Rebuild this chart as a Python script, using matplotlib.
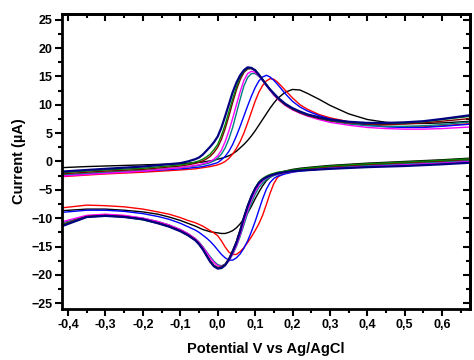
import matplotlib
matplotlib.use("Agg")
import matplotlib.pyplot as plt
from matplotlib.ticker import MultipleLocator

plt.rcParams['font.family'] = ['Liberation Sans', 'DejaVu Sans']
plt.rcParams['font.weight'] = 'bold'

# potential grid, forward (anodic) and reverse (cathodic) sweep, V vs Ag/AgCl
E_fwd = [-0.42, -0.35, -0.3, -0.25, -0.2, -0.15, -0.1, -0.08,
         -0.06, -0.05, -0.04, -0.03, -0.02, -0.01, 0.0, 0.01, 0.02, 0.03, 0.04, 0.05, 0.06, 0.07,
         0.08, 0.09, 0.10, 0.11, 0.12, 0.13, 0.14, 0.15, 0.16,
         0.18, 0.20, 0.22, 0.24, 0.27, 0.30, 0.35, 0.40, 0.45, 0.50, 0.55, 0.60, 0.68]
E_rev = [0.68, 0.6, 0.5, 0.4, 0.3, 0.25, 0.22, 0.20, 0.18,
         0.16, 0.15, 0.14, 0.13, 0.12, 0.11, 0.10, 0.09, 0.08, 0.07, 0.06, 0.05, 0.04, 0.03,
         0.02, 0.01, 0.0, -0.01, -0.02, -0.03, -0.04, -0.05, -0.06,
         -0.08, -0.1, -0.13, -0.16, -0.2, -0.25, -0.3, -0.35, -0.42]

# currents in uA, one list per scan
black_fwd = [-1.1, -0.9, -0.8, -0.7, -0.6, -0.5, -0.4, -0.3,
             -0.2, -0.15, -0.1, 0.0, 0.1, 0.2, 0.4, 0.55, 0.75, 1.0, 1.35, 1.8, 2.4, 3.0,
             3.7, 4.5, 5.4, 6.4, 7.4, 8.4, 9.4, 10.3, 11.1,
             12.2, 12.7, 12.6, 12.0, 11.0, 9.9, 8.4, 7.4, 6.9, 6.7, 6.7, 6.8, 7.1]
black_rev = [0.6, 0.3, 0.0, -0.3, -0.7, -1.0, -1.2, -1.4, -1.7,
             -2.1, -2.4, -2.8, -3.4, -4.3, -5.4, -6.6, -7.9, -9.1, -10.1, -11.0, -11.7, -12.2, -12.5,
             -12.7, -12.7, -12.6, -12.5, -12.4, -12.2, -12.0, -11.7, -11.4,
             -10.9, -10.4, -9.8, -9.3, -8.9, -8.6, -8.4, -8.4, -8.7]

red_fwd = [-2.7, -2.4, -2.2, -2.05, -1.9, -1.7, -1.5, -1.4,
           -1.3, -1.2, -1.1, -1.0, -0.9, -0.75, -0.6, -0.35, 0.0, 0.55, 1.3, 2.3, 3.5, 5.0,
           6.8, 8.7, 10.6, 12.2, 13.4, 14.2, 14.6, 14.5, 14.0,
           12.6, 11.2, 10.0, 9.2, 8.3, 7.7, 7.0, 6.5, 6.2, 6.1, 6.1, 6.3, 6.7]
red_rev = [0.3, 0.0, -0.3, -0.6, -1.0, -1.3, -1.5, -1.7, -2.0,
           -2.8, -3.9, -5.6, -7.6, -9.5, -11.0, -12.2, -13.3, -14.3, -15.2, -15.9, -16.4, -16.4, -16.0,
           -15.1, -14.0, -13.1, -12.6, -12.2, -11.8, -11.4, -11.1, -10.8,
           -10.4, -9.9, -9.3, -8.9, -8.4, -8.0, -7.8, -7.7, -8.2]

blue_fwd = [-2.5, -2.2, -2.0, -1.85, -1.7, -1.5, -1.3, -1.2,
            -1.05, -1.0, -0.9, -0.75, -0.6, -0.4, -0.2, 0.3, 0.9, 1.8, 3.0, 4.5, 6.2, 8.0,
            9.8, 11.5, 13.0, 14.2, 14.9, 15.2, 14.9, 14.3, 13.6,
            12.0, 10.6, 9.6, 8.9, 8.1, 7.5, 6.9, 6.4, 6.1, 6.0, 6.0, 6.2, 6.6]
blue_rev = [0.1, -0.2, -0.5, -0.8, -1.2, -1.5, -1.7, -1.9, -2.2,
            -2.6, -3.0, -3.7, -4.9, -6.6, -8.6, -10.6, -12.4, -14.0, -15.3, -16.3, -17.0, -17.4, -17.4,
            -17.0, -16.4, -15.6, -14.8, -14.1, -13.5, -13.0, -12.5, -12.1,
            -11.5, -10.9, -10.2, -9.7, -9.2, -8.8, -8.6, -8.6, -9.0]

teal_fwd = [-2.4, -2.1, -1.9, -1.75, -1.6, -1.35, -1.1, -0.95,
            -0.8, -0.7, -0.55, -0.4, -0.2, 0.1, 0.6, 1.3, 2.4, 4.0, 6.0, 8.5, 11.0, 13.3,
            14.8, 15.5, 15.5, 15.0, 14.3, 13.4, 12.6, 11.8, 11.1,
            10.0, 9.2, 8.6, 8.1, 7.5, 7.1, 6.6, 6.3, 6.2, 6.2, 6.3, 6.5, 7.0]
teal_rev = [0.2, -0.1, -0.4, -0.7, -1.1, -1.4, -1.6, -1.8, -2.0,
            -2.3, -2.5, -2.8, -3.2, -3.8, -4.6, -5.8, -7.3, -9.1, -11.2, -13.2, -15.0, -16.4, -17.5,
            -18.1, -18.4, -18.2, -17.6, -16.8, -15.9, -15.0, -14.2, -13.6,
            -12.7, -12.0, -11.2, -10.6, -10.0, -9.6, -9.4, -9.6, -10.9]

magenta_fwd = [-2.6, -2.3, -2.1, -1.9, -1.7, -1.4, -1.1, -0.9,
               -0.7, -0.55, -0.4, -0.2, 0.0, 0.4, 1.0, 2.0, 3.5, 5.4, 7.6, 10.0, 12.3, 14.3,
               15.5, 15.9, 15.7, 15.1, 14.3, 13.4, 12.5, 11.7, 11.0,
               9.9, 9.1, 8.5, 8.0, 7.4, 6.9, 6.4, 6.0, 5.8, 5.7, 5.7, 5.8, 6.1]
magenta_rev = [0.0, -0.3, -0.6, -0.9, -1.2, -1.5, -1.6, -1.8, -2.0,
               -2.2, -2.4, -2.6, -2.9, -3.4, -4.2, -5.3, -6.8, -8.6, -10.7, -12.9, -14.8, -16.3, -17.5,
               -18.2, -18.5, -18.4, -17.8, -17.0, -16.0, -15.1, -14.3, -13.6,
               -12.7, -12.0, -11.2, -10.6, -10.0, -9.5, -9.3, -9.5, -10.7]

wine_fwd = [-2.2, -1.9, -1.7, -1.55, -1.4, -1.1, -0.8, -0.6,
            -0.35, -0.15, 0.1, 0.45, 0.9, 1.6, 2.5, 3.9, 5.8, 8.0, 10.4, 12.6, 14.4, 15.7,
            16.3, 16.4, 16.0, 15.3, 14.5, 13.6, 12.7, 11.9, 11.1,
            10.0, 9.2, 8.6, 8.1, 7.6, 7.2, 6.8, 6.6, 6.5, 6.6, 6.8, 7.1, 7.6]
wine_rev = [0.4, 0.1, -0.2, -0.5, -0.9, -1.2, -1.4, -1.6, -1.8,
            -2.0, -2.2, -2.4, -2.7, -3.1, -3.7, -4.7, -6.1, -7.8, -9.8, -12.0, -14.1, -15.7, -17.1,
            -18.1, -18.6, -18.7, -18.3, -17.5, -16.5, -15.4, -14.5, -13.8,
            -12.9, -12.2, -11.4, -10.8, -10.2, -9.7, -9.5, -9.7, -11.2]

green_fwd = [-2.0, -1.7, -1.5, -1.35, -1.2, -0.9, -0.6, -0.4,
             -0.1, 0.1, 0.4, 0.8, 1.3, 2.1, 3.0, 4.6, 6.5, 8.8, 11.0, 13.1, 14.8, 15.9,
             16.4, 16.4, 16.1, 15.4, 14.5, 13.6, 12.7, 11.9, 11.2,
             10.1, 9.3, 8.7, 8.2, 7.7, 7.3, 6.9, 6.7, 6.7, 6.8, 7.0, 7.4, 8.0]
green_rev = [0.5, 0.2, -0.1, -0.4, -0.8, -1.1, -1.3, -1.5, -1.7,
             -1.9, -2.1, -2.3, -2.6, -3.0, -3.6, -4.7, -6.1, -7.8, -9.9, -12.1, -14.2, -15.8, -17.2,
             -18.2, -18.7, -18.8, -18.4, -17.6, -16.6, -15.5, -14.6, -13.9,
             -13.0, -12.3, -11.5, -10.9, -10.3, -9.8, -9.6, -9.8, -11.3]

navy_fwd = [-1.8, -1.5, -1.3, -1.1, -0.9, -0.6, -0.3, 0.0,
            0.4, 0.7, 1.2, 1.9, 2.6, 3.4, 4.4, 6.0, 8.0, 10.1, 12.2, 13.9, 15.2, 16.1,
            16.6, 16.5, 16.1, 15.3, 14.4, 13.5, 12.7, 12.0, 11.3,
            10.2, 9.4, 8.8, 8.3, 7.8, 7.4, 7.0, 6.8, 6.8, 6.9, 7.1, 7.5, 8.2]
navy_rev = [-0.2, -0.5, -0.8, -1.0, -1.3, -1.5, -1.6, -1.7, -1.9,
            -2.1, -2.3, -2.5, -2.8, -3.2, -3.8, -4.8, -6.2, -7.9, -9.9, -12.3, -14.3, -15.9, -17.3,
            -18.3, -18.8, -18.9, -18.5, -17.7, -16.6, -15.5, -14.6, -13.9,
            -13.0, -12.3, -11.5, -10.9, -10.2, -9.8, -9.6, -9.8, -11.5]

x_ticks = [-0.4, -0.3, -0.2, -0.1, 0.0, 0.1, 0.2, 0.3, 0.4, 0.5, 0.6]
x_labels = ['-0,4', '-0,3', '-0,2', '-0,1', '0,0', '0,1', '0,2', '0,3', '0,4', '0,5', '0,6']
y_ticks = [-25, -20, -15, -10, -5, 0, 5, 10, 15, 20, 25]

scans = [
    (black_fwd, black_rev, 'black', 1.0),
    (red_fwd, red_rev, 'red', 1.0),
    (blue_fwd, blue_rev, 'blue', 1.0),
    (teal_fwd, teal_rev, '#008080', 1.0),
    (magenta_fwd, magenta_rev, 'magenta', 1.0),
    (wine_fwd, wine_rev, '#800000', 1.0),
    (green_fwd, green_rev, '#008000', 1.0),
    (navy_fwd, navy_rev, '#000080', 1.6),
]

fig = plt.figure(figsize=(4.74, 3.6), dpi=100)
ax = fig.add_axes([0.131, 0.142, 0.861, 0.819])

for fwd, rev, col, lw in scans:
    ax.plot(E_fwd + E_rev, fwd + rev, color=col, lw=lw)

ax.set_xlim(-0.416, 0.675)
ax.set_ylim(-26, 26)
ax.set_xticks(x_ticks)
ax.set_xticklabels(x_labels)
ax.set_yticks(y_ticks)
ax.xaxis.set_minor_locator(MultipleLocator(0.05))
ax.yaxis.set_minor_locator(MultipleLocator(2.5))

for s in ax.spines.values():
    s.set_linewidth(2)
ax.tick_params(which='major', direction='out', length=5, width=1.5, labelsize=9, pad=2)
ax.tick_params(which='minor', direction='out', length=3, width=1.5)

# mirrored ticks pointing inwards on top and right
top = ax.secondary_xaxis('top')
top.set_xticks(x_ticks)
top.xaxis.set_minor_locator(MultipleLocator(0.05))
top.tick_params(which='major', direction='in', length=5, width=1.5, labeltop=False)
top.tick_params(which='minor', direction='in', length=3, width=1.5)
top.spines['top'].set_linewidth(2)
right = ax.secondary_yaxis('right')
right.set_yticks(y_ticks)
right.yaxis.set_minor_locator(MultipleLocator(2.5))
right.tick_params(which='major', direction='in', length=5, width=1.5, labelright=False)
right.tick_params(which='minor', direction='in', length=3, width=1.5)
right.spines['right'].set_linewidth(2)

ax.set_xlabel('Potential V vs Ag/AgCl', fontsize=10.5, fontweight='bold', labelpad=8)
ax.set_ylabel('Current (µA)', fontsize=10.5, fontweight='bold', labelpad=4)

fig.savefig('out.png', dpi=100)
